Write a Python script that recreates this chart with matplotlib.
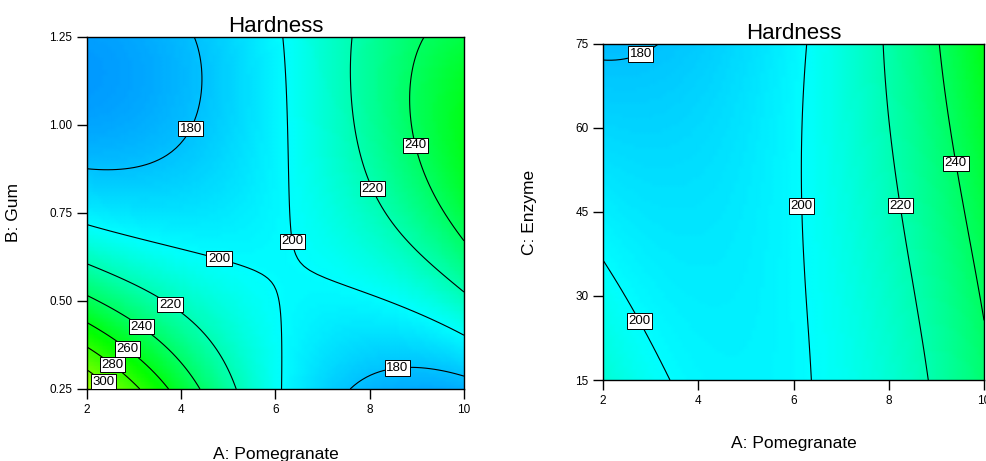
import numpy as np
import matplotlib
matplotlib.use("Agg")
import matplotlib.pyplot as plt
from matplotlib.colors import LinearSegmentedColormap

plt.rcParams['font.family'] = ['Liberation Sans', 'DejaVu Sans']

# points: (pomegranate, gum, hardness)
pom_ab = [2, 2.99, 3.55, 3.98, 4.22, 4.36, 4.42, 4.39, 4.32,
          7.54, 7.93, 8.5, 9.2, 10,
          2, 2.99, 3.84, 4.68, 5.39, 5.78, 5.99, 6.10, 6.17,
          6.11, 6.20, 6.31, 6.41, 6.55, 6.94, 7.93, 8.99, 10,
          2, 2.99, 3.80, 4.40, 4.83, 5.18,
          7.66, 7.65, 7.75, 8.0, 8.36, 8.99, 10,
          2, 3.2, 3.91, 4.38,
          9.10, 8.92, 8.92, 9.06, 9.49, 10,
          2, 2.92, 3.66, 10,
          2, 3.02,
          2, 2.42,
          2, 10, 2, 3, 2,
          6.2, 6, 5, 4, 7.5, 8, 5, 7, 9, 5]
gum_ab = [0.85, 0.867, 0.89, 0.938, 0.985, 1.05, 1.127, 1.184, 1.25,
          0.25, 0.29, 0.312, 0.315, 0.307,
          0.711, 0.671, 0.63, 0.592, 0.55, 0.512, 0.446, 0.361, 0.25,
          1.25, 0.976, 0.786, 0.682, 0.616, 0.559, 0.493, 0.446, 0.405,
          0.608, 0.555, 0.498, 0.436, 0.37, 0.25,
          1.25, 1.07, 0.957, 0.824, 0.73, 0.635, 0.522,
          0.517, 0.432, 0.361, 0.25,
          1.25, 1.118, 1.023, 0.928, 0.786, 0.673,
          0.437, 0.37, 0.25, 1.04,
          0.369, 0.25,
          0.312, 0.25,
          1.25, 0.25, 0.25, 1.25, 1.05,
          0.57, 0.75, 0.75, 0.75, 0.45, 0.75, 1.0, 1.0, 0.28, 0.4]
hard_ab = [180] * 9 + [180] * 5 + [200] * 9 + [200] * 9 + [220] * 6 + [220] * 7 \
    + [240] * 4 + [240] * 6 + [260] * 4 + [280] * 2 + [300] * 2 \
    + [168, 176, 318, 171, 172] \
    + [198, 197, 196, 193, 193, 216, 188, 210, 177, 213]

# (pomegranate, enzyme, hardness)
pom_ac = [2, 2.2, 2.59, 3.05, 3.4,
          2, 2.4, 2.84, 3.1, 3.41,
          6.30, 6.32, 6.34, 6.37, 6.41,
          7.82, 8.0, 8.19, 8.5, 8.91,
          8.98, 9.2, 9.42, 9.7, 10,
          2, 4, 3, 4.5, 10, 10, 2, 6, 4.9]
enz_ac = [73.45, 72.9, 72.4, 73.3, 75,
          33.3, 29.5, 25.1, 20, 15,
          75, 60, 45.95, 30, 15,
          75, 60, 47.1, 30, 15,
          75, 64, 53.1, 40, 27.8,
          75, 60, 45, 30, 75, 15, 15, 60, 15]
hard_ac = [180] * 5 + [200] * 5 + [200] * 5 + [220] * 5 + [240] * 5 \
    + [178, 188, 193, 197, 258, 238, 212, 199, 196]

levels = [180, 200, 220, 240, 260, 280, 300]

labels_ab = [(4.19, 0.99), (9.01, 0.944), (8.05, 0.819), (6.43, 0.671),
             (4.79, 0.613), (3.79, 0.495), (3.19, 0.434), (2.90, 0.37),
             (2.59, 0.326), (2.39, 0.277), (8.57, 0.33)]
labels_ac = [(2.78, 73.45), (9.39, 53.7), (6.32, 46.1), (8.23, 46.1), (2.71, 25.3)]

vmin, vmax = 115, 420
cmap = LinearSegmentedColormap.from_list(
    'dx', [(0.0, '#0000ff'), (0.279, '#00ffff'), (0.492, '#00ff00'),
           (0.754, '#ffff00'), (1.0, '#ff0000')])

# exponent pairs of the fitted polynomial (in 1/hardness)
bicubic = [(i, j) for i in range(4) for j in range(4)]
cubic = [(i, j) for i in range(4) for j in range(4) if i + j <= 3]


def terms(u, v, powers):
    return np.stack([u ** i * v ** j for i, j in powers], axis=-1)


def surface(x, y, z, xc, xh, yc, yh, powers):
    u = (np.array(x) - xc) / xh
    v = (np.array(y) - yc) / yh
    coef, *_ = np.linalg.lstsq(terms(u, v, powers), 1.0 / np.array(z), rcond=None)
    gx = np.linspace(xc - xh, xc + xh, 90)
    gy = np.linspace(yc - yh, yc + yh, 90)
    X, Y = np.meshgrid(gx, gy)
    Z = 1.0 / (terms((X - xc) / xh, (Y - yc) / yh, powers) @ coef)
    return X, Y, Z


def panel(ax, X, Y, Z, lab_pos, ylabel, yticks, yfmt):
    ax.pcolormesh(X, Y, Z, cmap=cmap, vmin=vmin, vmax=vmax, shading='gouraud')
    cs = ax.contour(X, Y, Z, levels=levels, colors='black', linewidths=0.8)
    txt = ax.clabel(cs, manual=lab_pos, inline=False, fmt='%d', fontsize=9.5)
    for t in txt:
        t.set_rotation(0)
        t.set_bbox(dict(boxstyle='square,pad=0.12', fc='white', ec='black', lw=0.7))
    ax.set_xlim(2, 10)
    ax.set_ylim(yticks[0], yticks[-1])
    ax.set_xticks([2, 4, 6, 8, 10])
    ax.set_yticks(yticks)
    ax.set_yticklabels([yfmt % t for t in yticks])
    ax.tick_params(direction='out', length=7.5, width=1, labelsize=8.5, pad=3)
    ax.set_title('Hardness', fontsize=16, pad=3)
    ax.set_xlabel('A: Pomegranate', fontsize=12.5)
    ax.set_ylabel(ylabel, fontsize=12.5)
    ax.xaxis.set_label_coords(0.5, -0.166)
    ax.yaxis.set_label_coords(-0.174, 0.5)
    for s in ax.spines.values():
        s.set_linewidth(1)


fig = plt.figure(figsize=(9.87, 4.61), dpi=100)
ax1 = fig.add_axes([0.0881, 0.1562, 0.382, 0.7636])
ax2 = fig.add_axes([0.611, 0.1757, 0.386, 0.7289])

X, Y, Z = surface(pom_ab, gum_ab, hard_ab, 6, 4, 0.75, 0.5, bicubic)
panel(ax1, X, Y, Z, labels_ab, 'B: Gum', [0.25, 0.5, 0.75, 1.0, 1.25], '%.2f')

X, Y, Z = surface(pom_ac, enz_ac, hard_ac, 6, 4, 45, 30, cubic)
panel(ax2, X, Y, Z, labels_ac, 'C: Enzyme', [15, 30, 45, 60, 75], '%d')

fig.savefig('out.png', dpi=100)
